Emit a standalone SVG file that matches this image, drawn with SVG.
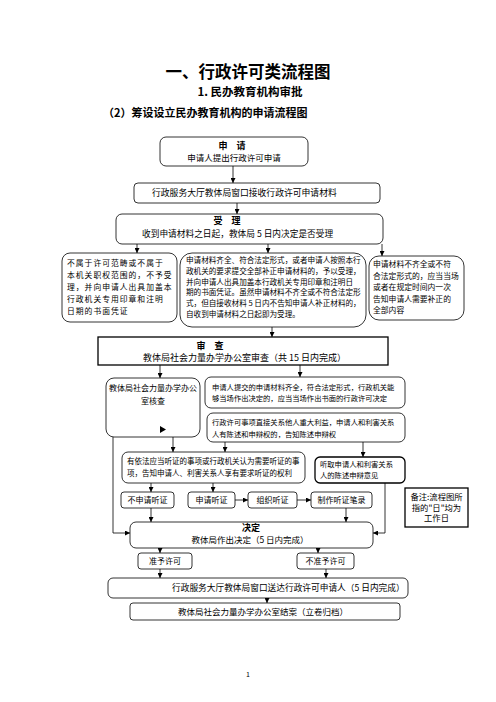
<svg xmlns="http://www.w3.org/2000/svg" width="496" height="702" viewBox="0 0 496 702">
<defs>
<marker id="ah" markerWidth="5" markerHeight="5" refX="5" refY="2.5" orient="auto" markerUnits="userSpaceOnUse"><path d="M0,0 L5,2.5 L0,5 z" fill="#000"/></marker>
</defs>
<style>
.b{fill:#fff;stroke:#000;stroke-width:0.8}
.bb{fill:#fff;stroke:#000;stroke-width:1.3}
.t{font-family:"Noto Sans CJK SC","Noto Sans",sans-serif;fill:#000}
.h{font-weight:bold}
.m{text-anchor:middle}
.c{stroke:#000;stroke-width:0.8;fill:none;marker-end:url(#ah)}
</style>
<rect width="496" height="702" fill="#fff"/>
<g id="titles">
<text x="248" y="78" class="t h m" font-size="16.5">一、行政许可类流程图</text>
<text x="250" y="96" class="t h m" font-size="11.5">1. 民办教育机构审批</text>
<text x="103" y="117" class="t h" font-size="11">（2）筹设设立民办教育机构的申请流程图</text>
</g>
<g id="connectors">
<path class="c" d="M233,166 V183"/>
<path class="c" d="M237,203 V214"/>
<path class="c" d="M137,244 V253"/>
<path class="c" d="M268,244 V253"/>
<path class="c" d="M382,244 V256"/>
<path class="c" d="M272,327 V337"/>
<path class="c" d="M160,365 V378"/>
<path class="c" d="M300,365 V377"/>
<path class="c" d="M173,437 V452"/>
<path class="c" d="M225,442 V452"/>
<path class="c" d="M363,442 V457"/>
<path class="c" d="M113,437 V533 H130"/>
<path class="c" d="M385,483 V533 H373"/>
<path class="c" d="M151,483 V492"/>
<path class="c" d="M213,483 V492"/>
<path class="c" d="M235,500 H248"/>
<path class="c" d="M297,500 H311"/>
<path class="c" d="M151,508 V522"/>
<path class="c" d="M346,508 V522"/>
<path class="c" d="M160,548 V553"/>
<path class="c" d="M318,548 V553"/>
<path class="c" d="M160,569 V578"/>
<path class="c" d="M326,569 V578"/>
<path class="c" d="M267,598 V603"/>
</g>
<g id="n1">
<rect class="b" x="160" y="137" width="148" height="29" rx="6"/>
<text x="232" y="149" class="t h m" font-size="9">申　请</text>
<text x="234" y="161" class="t m" font-size="8.5">申请人提出行政许可申请</text>
</g>
<g id="n2">
<rect class="b" x="134" y="183" width="246" height="20" rx="4"/>
<text x="152" y="196" class="t" font-size="8.8">行政服务大厅教体局窗口接收行政许可申请材料</text>
</g>
<g id="n3">
<rect class="b" x="116" y="214" width="267" height="30" rx="6"/>
<text x="227" y="224" class="t h m" font-size="9">受　理</text>
<text x="142" y="237" class="t" font-size="8.7">收到申请材料之日起，教体局 5 日内决定是否受理</text>
</g>
<g id="n4">
<rect class="b" x="62" y="253" width="115" height="69" rx="8"/>
<text class="t" font-size="7.8" letter-spacing="1"><tspan x="67" y="266">不属于许可范畴或不属于</tspan><tspan x="67" y="278">本机关职权范围的，不予受</tspan><tspan x="67" y="290">理，并向申请人出具加盖本</tspan><tspan x="67" y="302">行政机关专用印章和注明</tspan><tspan x="67" y="314">日期的书面凭证</tspan></text>
</g>
<g id="n5">
<rect class="b" x="180" y="253" width="186" height="74" rx="12"/>
<text class="t" font-size="7.6"><tspan x="186" y="263">申请材料齐全、符合法定形式，或者申请人按照本行</tspan><tspan x="186" y="273.8">政机关的要求提交全部补正申请材料的，予以受理，</tspan><tspan x="186" y="284.6">并向申请人出具加盖本行政机关专用印章和注明日</tspan><tspan x="186" y="295.4">期的书面凭证。虽然申请材料不齐全或不符合法定形</tspan><tspan x="186" y="306.2">式，但自接收材料 5 日内不告知申请人补正材料的，</tspan><tspan x="186" y="317">自收到申请材料之日起即为受理。</tspan></text>
</g>
<g id="n6">
<rect class="b" x="369" y="256" width="95" height="64" rx="10"/>
<text class="t" font-size="7.8"><tspan x="373" y="267">申请材料不齐全或不符</tspan><tspan x="373" y="278.5">合法定形式的，应当当场</tspan><tspan x="373" y="290">或者在规定时间内一次</tspan><tspan x="373" y="301.5">告知申请人需要补正的</tspan><tspan x="373" y="313">全部内容</tspan></text>
</g>
<g id="n7">
<rect class="bb" x="98" y="337" width="290" height="28"/>
<text x="210" y="349" class="t h m" font-size="9">审　查</text>
<text x="143" y="361" class="t" font-size="9">教体局社会力量办学办公室审查（共 15 日内完成）</text>
</g>
<g id="n8">
<rect class="b" x="106" y="378" width="94" height="59" rx="8"/>
<text x="153" y="391" class="t m" font-size="8">教体局社会力量办学办公</text>
<text x="153" y="404" class="t m" font-size="8">室核查</text>
<polygon points="160,426 166,429.5 160,433" fill="#000"/>
</g>
<g id="n9">
<rect class="b" x="205" y="377" width="200" height="31" rx="6"/>
<text class="t" font-size="7.3"><tspan x="212" y="390">申请人提交的申请材料齐全，符合法定形式，行政机关能</tspan><tspan x="212" y="401">够当场作出决定的，应当当场作出书面的行政许可决定</tspan></text>
</g>
<g id="n10">
<rect class="b" x="207" y="413" width="198" height="29" rx="6"/>
<text class="t" font-size="7.3"><tspan x="212" y="425">行政许可事项直接关系他人重大利益，申请人和利害关系</tspan><tspan x="212" y="437">人有陈述和申辩权的，告知陈述申辩权</tspan></text>
</g>
<g id="n11">
<rect class="b" x="122" y="452" width="183" height="31" rx="6"/>
<text class="t" font-size="7.5"><tspan x="127" y="464">有依法应当听证的事项或行政机关认为需要听证的事</tspan><tspan x="127" y="476">项，告知申请人、利害关系人享有要求听证的权利</tspan></text>
</g>
<g id="n12">
<rect class="bb" x="315" y="457" width="90" height="26" rx="5"/>
<text class="t" font-size="7.3"><tspan x="320" y="467">听取申请人和利害关系</tspan><tspan x="320" y="478">人的陈述申辩意见</tspan></text>
</g>
<g id="n13">
<rect class="b" x="121" y="492" width="53" height="16" rx="3"/>
<text x="147.5" y="503" class="t m" font-size="8">不申请听证</text>
</g>
<g id="n14">
<rect class="b" x="188" y="492" width="47" height="16" rx="3"/>
<text x="211.5" y="503" class="t m" font-size="8">申请听证</text>
</g>
<g id="n15">
<rect class="b" x="248" y="492" width="49" height="16" rx="3"/>
<text x="272.5" y="503" class="t m" font-size="8">组织听证</text>
</g>
<g id="n16">
<rect class="b" x="311" y="492" width="61" height="16" rx="3"/>
<text x="341.5" y="503" class="t m" font-size="8">制作听证笔录</text>
</g>
<g id="n17">
<rect class="bb" x="405" y="488" width="63" height="39"/>
<text class="t m" font-size="8.3"><tspan x="436.5" y="500">备注:流程图所</tspan><tspan x="436.5" y="510.5">指的"日"均为</tspan><tspan x="436.5" y="521">工作日</tspan></text>
</g>
<g id="n18">
<rect class="b" x="130" y="522" width="243" height="26" rx="6"/>
<text x="251" y="531" class="t h m" font-size="9">决定</text>
<text x="250" y="543" class="t m" font-size="8.5">教体局作出决定（5 日内完成）</text>
</g>
<g id="n19">
<rect class="b" x="138" y="553" width="54" height="16" rx="3"/>
<text x="165" y="564" class="t m" font-size="8">准予许可</text>
</g>
<g id="n20">
<rect class="b" x="297" y="553" width="57" height="16" rx="3"/>
<text x="325.5" y="564" class="t m" font-size="8">不准予许可</text>
</g>
<g id="n21">
<rect class="b" x="108" y="578" width="300" height="20" rx="5"/>
<text x="172" y="591" class="t" font-size="8.7">行政服务大厅教体局窗口送达行政许可申请人（5 日内完成）</text>
</g>
<g id="n22">
<rect class="b" x="130" y="603" width="270" height="17" rx="3"/>
<text x="263" y="614.5" class="t m" font-size="8.5">教体局社会力量办学办公室结案（立卷归档）</text>
</g>
<text x="248" y="677" class="t m" font-size="7">1</text>
</svg>
